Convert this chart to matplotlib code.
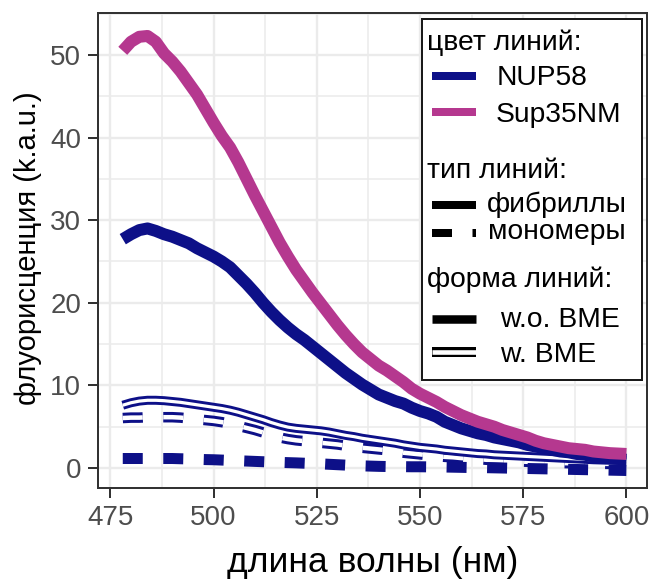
import matplotlib
matplotlib.use("Agg")
import matplotlib.pyplot as plt
from matplotlib.lines import Line2D
from matplotlib.patches import Rectangle
from matplotlib.transforms import Affine2D
from matplotlib.ticker import MultipleLocator

plt.rcParams['font.family'] = ['Liberation Sans', 'DejaVu Sans']
plt.rcParams['lines.scale_dashes'] = False

# ---------------- data ----------------
wavelength = [478, 480, 482, 484, 486, 488, 490, 492, 494, 496, 498, 500,
              502, 504, 506, 508, 510, 512, 514, 516, 518, 520, 522, 524,
              526, 528, 530, 532, 534, 536, 538, 540, 542, 544, 546, 548,
              550, 552, 554, 556, 558, 560, 562, 564, 566, 568, 570, 572,
              574, 576, 578, 580, 582, 584, 586, 588, 590, 592, 594, 596,
              598, 600]

sup35_fibrils_woBME = [50.5, 51.6, 52.2, 52.3, 51.6, 50.2, 49.2, 48.0, 46.6, 45.2, 43.5, 41.8,
                       40.2, 38.8, 37.0, 35.0, 33.0, 31.1, 29.2, 27.3, 25.6, 24.0, 22.6, 21.2,
                       19.9, 18.6, 17.3, 16.1, 15.0, 14.0, 13.2, 12.4, 11.8, 11.1, 10.4, 9.6,
                       9.0, 8.5, 8.0, 7.4, 6.9, 6.4, 6.0, 5.6, 5.3, 5.0, 4.6, 4.3,
                       4.0, 3.7, 3.3, 3.0, 2.8, 2.6, 2.4, 2.3, 2.2, 2.0, 1.9, 1.8,
                       1.75, 1.7]

nup58_fibrils_woBME = [27.7, 28.3, 28.8, 29.0, 28.7, 28.3, 28.0, 27.6, 27.2, 26.6, 26.1, 25.6,
                       25.0, 24.3, 23.3, 22.3, 21.2, 20.0, 18.9, 17.9, 17.0, 16.2, 15.5, 14.7,
                       13.9, 13.1, 12.3, 11.5, 10.8, 10.1, 9.5, 8.9, 8.5, 8.1, 7.8, 7.3,
                       6.9, 6.6, 6.2, 5.6, 5.2, 4.8, 4.5, 4.2, 4.0, 3.7, 3.5, 3.3,
                       3.1, 2.8, 2.6, 2.4, 2.2, 2.0, 1.9, 1.7, 1.6, 1.4, 1.3, 1.2,
                       1.1, 1.0]

nup58_fibrils_wBME = [7.6, 7.9, 8.1, 8.2, 8.2, 8.15, 8.05, 7.95, 7.8, 7.65, 7.5, 7.35,
                      7.2, 7.0, 6.75, 6.45, 6.15, 5.85, 5.5, 5.2, 4.95, 4.8, 4.7, 4.6,
                      4.5, 4.35, 4.15, 3.95, 3.8, 3.6, 3.45, 3.3, 3.15, 3.0, 2.8, 2.65,
                      2.5, 2.4, 2.3, 2.15, 2.05, 1.95, 1.85, 1.75, 1.7, 1.6, 1.55, 1.5,
                      1.45, 1.4, 1.35, 1.3, 1.25, 1.2, 1.15, 1.1, 1.05, 1.0, 0.97, 0.94,
                      0.92, 0.9]

nup58_monomers_wBME = [6.05, 6.1, 6.1, 6.15, 6.15, 6.15, 6.15, 6.1, 6.0, 5.9, 5.8, 5.7,
                       5.55, 5.35, 5.1, 4.85, 4.6, 4.3, 4.0, 3.7, 3.5, 3.35, 3.25, 3.15,
                       3.05, 2.95, 2.85, 2.7, 2.6, 2.45, 2.35, 2.25, 2.15, 2.0, 1.85, 1.75,
                       1.65, 1.55, 1.45, 1.35, 1.3, 1.2, 1.15, 1.1, 1.0, 0.95, 0.9, 0.85,
                       0.8, 0.75, 0.7, 0.65, 0.62, 0.6, 0.58, 0.56, 0.54, 0.52, 0.5, 0.5,
                       0.5, 0.5]

nup58_monomers_woBME = [1.15, 1.15, 1.15, 1.15, 1.15, 1.15, 1.15, 1.12, 1.1, 1.05, 1.02, 1.0,
                        0.96, 0.92, 0.88, 0.84, 0.8, 0.76, 0.72, 0.68, 0.65, 0.62, 0.58, 0.54,
                        0.5, 0.45, 0.4, 0.35, 0.3, 0.26, 0.23, 0.2, 0.18, 0.17, 0.16, 0.15,
                        0.15, 0.14, 0.13, 0.12, 0.1, 0.08, 0.06, 0.05, 0.04, 0.02, 0.0, -0.02,
                        -0.04, -0.06, -0.08, -0.1, -0.12, -0.14, -0.16, -0.18, -0.2, -0.22, -0.24, -0.26,
                        -0.28, -0.3]

x_ticks = [475, 500, 525, 550, 575, 600]
y_ticks = [0, 10, 20, 30, 40, 50]

legend_color_title = "цвет линий:"
legend_color_labels = ["NUP58", "Sup35NM"]
legend_type_title = "тип линий:"
legend_type_labels = ["фибриллы", "мономеры"]
legend_form_title = "форма линий:"
legend_form_labels = ["w.o. BME", "w. BME"]

# ---------------- style ----------------
W, H, DPI = 652, 580, 100
PX = 72.0 / DPI  # points per pixel
NAVY = '#0D1088'
MAG = '#B5388F'
DASH = (0, (20 * PX, 20.5 * PX))
LEG_FS = 20.3

fig = plt.figure(figsize=(W / DPI, H / DPI), dpi=DPI)
ax = fig.add_axes([98 / W, 1 - 488 / H, (647 - 98) / W, (488 - 13) / H])
ax.set_xlim(472, 605)
ax.set_ylim(-2.42, 55.08)

ax.set_xticks(x_ticks)
ax.set_yticks(y_ticks)
ax.xaxis.set_minor_locator(MultipleLocator(12.5))
ax.yaxis.set_minor_locator(MultipleLocator(5))
ax.grid(which='major', color='#EBEBEB', lw=2.4 * PX)
ax.grid(which='minor', color='#EBEBEB', lw=1.5 * PX)
ax.set_axisbelow(True)
ax.tick_params(which='minor', length=0)
ax.tick_params(which='major', length=10 * PX, width=2 * PX, color='#333333',
               labelsize=20, labelcolor='#4D4D4D', pad=5)
for s in ax.spines.values():
    s.set_color('#333333')
    s.set_linewidth(2 * PX)

common = dict(solid_capstyle='butt', dash_capstyle='butt', solid_joinstyle='round',
              dash_joinstyle='round')
THICK = 12 * PX

# double dashed (monomers, w. BME)
ax.plot(wavelength, nup58_monomers_wBME, color=NAVY, lw=10.5 * PX, linestyle=DASH, **common)
ax.plot(wavelength, nup58_monomers_wBME, color='white', lw=4.5 * PX, linestyle=DASH, **common)
# double solid (fibrils, w. BME)
ax.plot(wavelength, nup58_fibrils_wBME, color=NAVY, lw=9 * PX, **common)
ax.plot(wavelength, nup58_fibrils_wBME, color='white', lw=3.2 * PX, **common)
# thick dashed (monomers, w.o. BME)
ax.plot(wavelength, nup58_monomers_woBME, color=NAVY, lw=11 * PX, linestyle=DASH, **common)
# thick solid (fibrils, w.o. BME)
ax.plot(wavelength, nup58_fibrils_woBME, color=NAVY, lw=THICK, **common)
ax.plot(wavelength, sup35_fibrils_woBME, color=MAG, lw=THICK, **common)

# axis titles
fig.text(373 / W, 1 - 572 / H, "длина волны (нм)", fontsize=25.5, ha='center',
         va='baseline', color='black')
fig.text(28 / W, 1 - 248 / H, "флуорисценция (k.a.u.)", fontsize=21, ha='center',
         va='center', rotation=90, color='black')

# ---------------- legend (pixel coordinates from top-left) ----------------
tpx = Affine2D().scale(1 / W, -1 / H).translate(0, 1) + fig.transFigure
fig.add_artist(Rectangle((422, 19), 220, 361, transform=tpx, facecolor='white',
                         edgecolor='#1A1A1A', lw=2 * PX, zorder=5))

def ltext(x, y, s):
    fig.text(x, y, s, transform=tpx, fontsize=LEG_FS, ha='left', va='baseline',
             color='black', zorder=6)

def lkey(y, color, lw, ls='-', white=None):
    fig.add_artist(Line2D([432, 476], [y, y], transform=tpx, color=color, lw=lw * PX,
                          linestyle=ls, solid_capstyle='butt', dash_capstyle='butt', zorder=6))
    if white:
        fig.add_artist(Line2D([432, 476], [y, y], transform=tpx, color='white',
                              lw=white * PX, solid_capstyle='butt', zorder=7))

ltext(427, 50, legend_color_title)
lkey(75.5, NAVY, 8)
ltext(497, 85, legend_color_labels[0])
lkey(112, MAG, 8)
ltext(496, 121.5, legend_color_labels[1])

ltext(427, 178.3, legend_type_title)
lkey(205, 'black', 8)
ltext(486.5, 211.5, legend_type_labels[0])
lkey(233.3, 'black', 8, ls=DASH)
ltext(488.5, 239, legend_type_labels[1])

ltext(427, 286.7, legend_form_title)
lkey(319, 'black', 8.5)
ltext(500, 326.7, legend_form_labels[0])
lkey(352, 'black', 10, white=4.6)
ltext(500, 361.7, legend_form_labels[1])

fig.savefig("out.png", dpi=DPI)
